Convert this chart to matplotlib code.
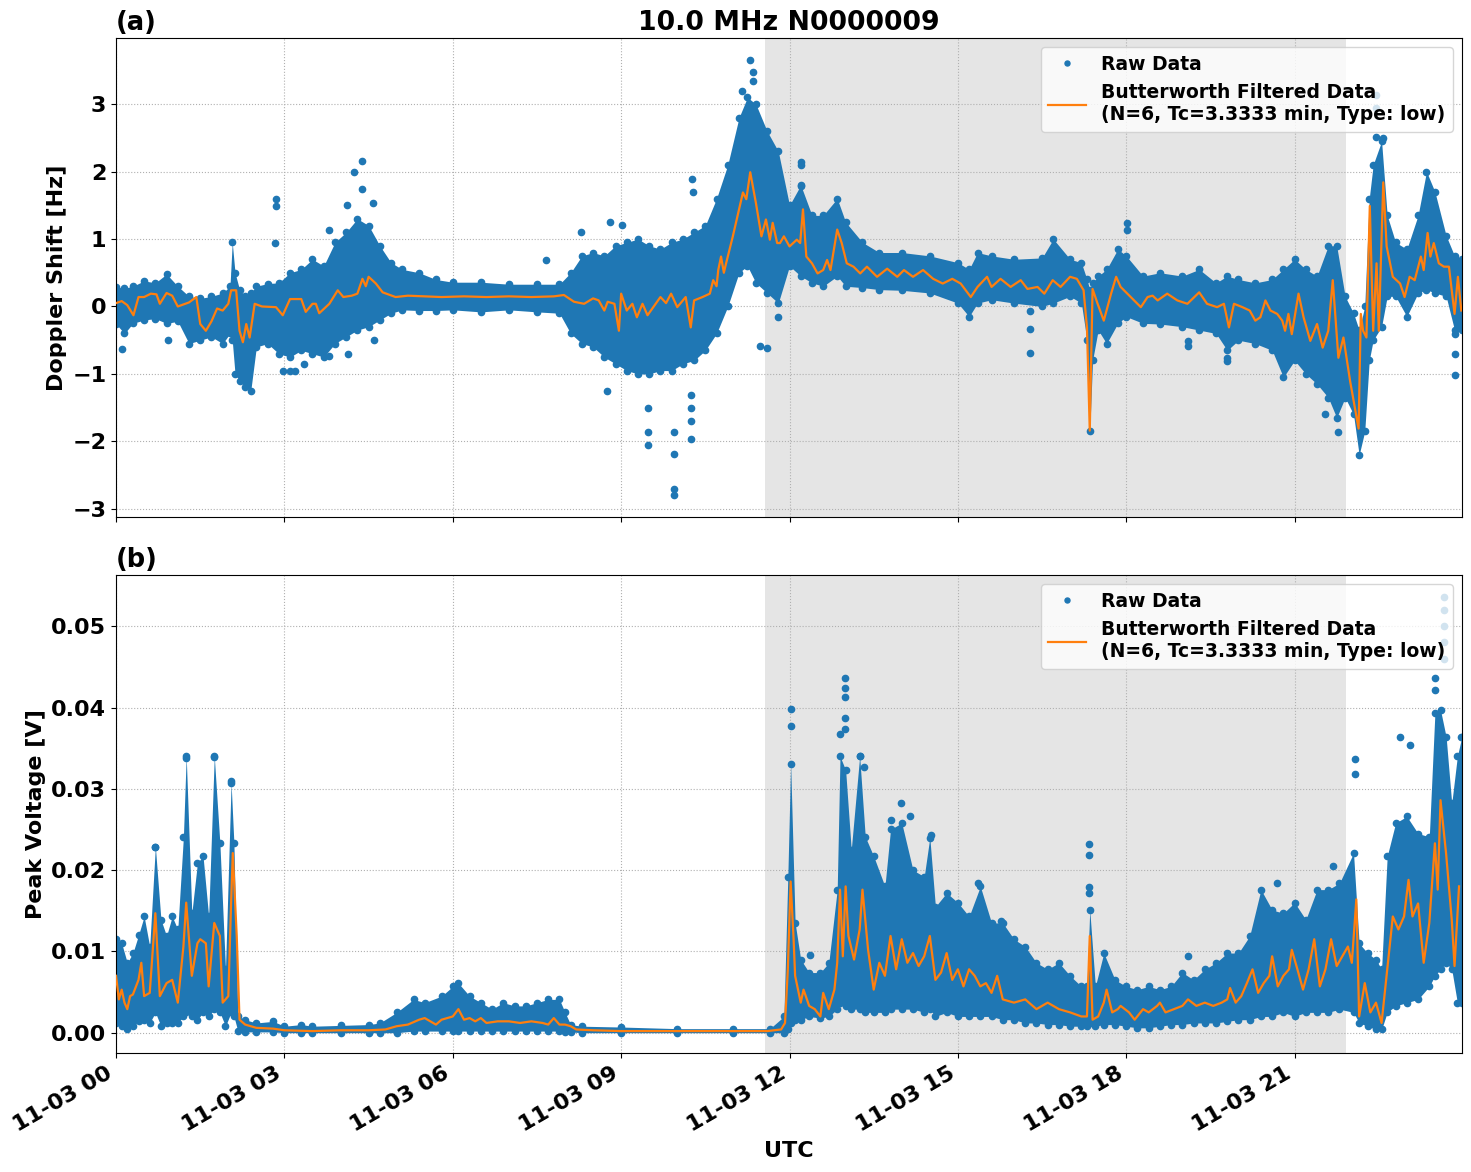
import numpy as np
import pandas as pd
import matplotlib
matplotlib.use('Agg')
import matplotlib.pyplot as plt
import matplotlib.dates as mdates

plt.rcParams['font.weight'] = 'bold'
plt.rcParams['axes.labelweight'] = 'bold'
plt.rcParams['axes.titleweight'] = 'bold'

DAY = pd.Timestamp('2023-11-03 00:00')

# ---- (a) Doppler shift: spread of raw data (hour, upper edge, lower edge) ----
dop_env_h = [0.0, 0.15, 0.3, 0.5, 0.7, 0.9, 1.1, 1.3, 1.5, 1.7, 1.9, 2.03, 2.07, 2.12, 2.2, 2.3, 2.4,
             2.5, 2.7, 2.9, 3.1, 3.3, 3.5, 3.7, 3.9, 4.1, 4.3, 4.5, 4.7, 4.9, 5.1, 5.4, 5.7,
             6.0, 6.5, 7.0, 7.5, 7.9, 8.1, 8.3, 8.5, 8.7, 8.9, 9.1, 9.3, 9.5, 9.7, 9.9, 10.1,
             10.3, 10.5, 10.7, 10.9, 11.1, 11.25, 11.4, 11.6, 11.8, 12.0, 12.2, 12.4, 12.6, 12.85,
             13.0, 13.3, 13.6, 14.0, 14.5, 15.0, 15.2, 15.35, 15.6, 16.0, 16.5, 16.7, 17.0, 17.2,
             17.3, 17.35, 17.4, 17.5, 17.65, 17.85, 18.0, 18.3, 18.6, 19.0, 19.3, 19.6, 19.8, 20.0,
             20.3, 20.6, 20.8, 21.0, 21.2, 21.4, 21.6, 21.75, 21.9, 22.05, 22.15, 22.25, 22.33,
             22.4, 22.55, 22.65, 22.8, 23.0, 23.2, 23.35, 23.5, 23.7, 23.85, 23.98]
dop_env_top = [0.29, 0.27, 0.3, 0.38, 0.35, 0.48, 0.3, 0.15, 0.12, 0.15, 0.2, 0.3, 0.95, 0.5, 0.25, 0.15, 0.2,
               0.3, 0.34, 0.35, 0.5, 0.55, 0.7, 0.6, 0.95, 1.1, 1.3, 1.2, 0.9, 0.65, 0.55, 0.5, 0.4,
               0.36, 0.36, 0.33, 0.33, 0.33, 0.5, 0.75, 0.8, 0.75, 0.9, 0.95, 1.0, 0.9, 0.85, 0.95, 1.0,
               1.1, 1.2, 1.6, 2.1, 2.8, 3.1, 3.0, 2.6, 2.3, 1.5, 1.8, 1.35, 1.35, 1.6,
               1.25, 0.95, 0.8, 0.8, 0.75, 0.65, 0.55, 0.8, 0.75, 0.7, 0.72, 1.0, 0.7, 0.65,
               0.4, 0.25, 0.35, 0.45, 0.55, 0.85, 0.75, 0.45, 0.5, 0.45, 0.55, 0.35, 0.45, 0.4,
               0.35, 0.4, 0.55, 0.7, 0.55, 0.45, 0.9, 0.9, 0.15, -0.1, -0.35, 0.0, 1.6,
               2.1, 2.45, 1.35, 0.95, 0.85, 1.35, 2.0, 1.7, 1.05, 0.75, 0.7]
dop_env_bot = [-0.26, -0.4, -0.25, -0.2, -0.18, -0.25, -0.22, -0.55, -0.5, -0.45, -0.55, -0.4, -0.5, -1.0, -1.1, -1.2, -1.25,
               -0.6, -0.55, -0.7, -0.75, -0.65, -0.7, -0.75, -0.55, -0.45, -0.35, -0.3, -0.2, -0.1, -0.05, -0.06, -0.06,
               -0.05, -0.08, -0.05, -0.08, -0.1, -0.4, -0.55, -0.6, -0.75, -0.85, -0.95, -1.0, -1.0, -0.95, -0.95, -0.85,
               -0.8, -0.65, -0.4, 0.0, 0.5, 0.6, 0.35, 0.2, 0.05, 0.6, 0.45, 0.35, 0.3, 0.45,
               0.3, 0.28, 0.25, 0.24, 0.2, 0.05, -0.15, 0.05, 0.1, 0.05, 0.0, 0.05, 0.15, 0.05,
               -0.5, -1.85, -0.8, -0.35, -0.55, -0.25, -0.15, -0.25, -0.26, -0.3, -0.35, -0.4, -0.65, -0.5,
               -0.55, -0.65, -1.05, -0.8, -1.0, -1.15, -1.35, -1.65, -1.35, -1.6, -2.2, -1.85, -0.8,
               -0.5, -0.3, 0.15, 0.15, -0.15, 0.2, 0.25, 0.2, 0.15, -0.35, -0.35]

# isolated raw points outside the main band
dop_out_h = [2.85, 2.85, 2.84, 4.24, 4.39, 4.39, 4.57, 4.12, 3.8, 0.93, 0.1, 2.97, 3.1, 3.18, 3.8, 4.13, 4.6, 3.35,
             11.29, 11.35, 11.35, 11.16, 10.27, 10.28, 8.28, 8.8, 9.02, 7.66, 9.47, 9.47, 9.47, 9.95, 9.95, 9.95,
             9.95, 10.24, 10.24, 10.24, 10.24, 8.74, 11.6, 11.48, 12.2, 12.2, 12.21, 16.28, 16.28, 16.28, 11.8,
             18.01, 18.01, 19.1, 19.1, 19.8, 19.8, 23.86, 23.86, 23.86, 21.78, 21.55, 22.45, 22.45, 22.45, 22.57]
dop_out_v = [1.6, 1.49, 0.94, 2.0, 2.15, 1.74, 1.54, 1.5, 1.14, -0.5, -0.63, -0.96, -0.96, -0.96, -0.73, -0.71, -0.5, -0.86,
             3.65, 3.47, 3.34, 3.2, 1.89, 1.69, 1.11, 1.25, 1.21, 0.69, -1.51, -1.86, -2.06, -1.86, -2.19, -2.7,
             -2.8, -1.31, -1.5, -1.7, -1.96, -1.26, -0.61, -0.59, 2.14, 2.09, 1.79, -0.06, -0.34, -0.69, -0.16,
             1.24, 1.14, -0.51, -0.58, -0.76, -0.81, -0.41, -0.7, -1.01, -1.86, -1.59, 3.14, 2.94, 2.51, 2.49]

# Butterworth filtered Doppler shift (hour, Hz)
dop_filt_h = [0.0, 0.1, 0.2, 0.31, 0.4, 0.5, 0.62, 0.72, 0.78, 0.9, 1.0, 1.1, 1.3, 1.43, 1.5, 1.6, 1.7, 1.8, 1.9,
              2.0, 2.05, 2.14, 2.2, 2.26, 2.32, 2.38, 2.47, 2.6, 2.85, 2.97, 3.1, 3.3, 3.38, 3.5, 3.56, 3.62,
              3.8, 3.95, 4.05, 4.2, 4.3, 4.39, 4.45, 4.5, 4.63, 4.75, 4.98, 5.2, 5.5, 5.8, 6.2, 6.6, 7.0,
              7.4, 7.8, 7.98, 8.16, 8.34, 8.5, 8.6, 8.7, 8.76, 8.88, 8.96, 9.0, 9.1, 9.2, 9.28, 9.38, 9.47,
              9.58, 9.7, 9.8, 9.89, 10.0, 10.15, 10.24, 10.3, 10.45, 10.58, 10.64, 10.7, 10.73, 10.78, 10.83,
              10.87, 10.99, 11.1, 11.17, 11.23, 11.3, 11.4, 11.5, 11.58, 11.65, 11.7, 11.78, 11.83, 11.9,
              12.0, 12.13, 12.19, 12.24, 12.3, 12.4, 12.5, 12.6, 12.67, 12.73, 12.85, 12.93, 13.02, 13.14,
              13.26, 13.38, 13.56, 13.74, 13.92, 14.04, 14.2, 14.38, 14.56, 14.73, 14.9, 15.05, 15.23,
              15.35, 15.52, 15.6, 15.76, 15.94, 16.12, 16.24, 16.42, 16.54, 16.69, 16.83, 17.0, 17.12,
              17.24, 17.3, 17.35, 17.4, 17.49, 17.6, 17.73, 17.82, 17.9, 18.08, 18.26, 18.38, 18.47, 18.56,
              18.73, 18.91, 19.09, 19.3, 19.44, 19.62, 19.74, 19.83, 19.92, 20.07, 20.2, 20.3, 20.39,
              20.48, 20.57, 20.69, 20.78, 20.83, 20.89, 20.95, 21.07, 21.16, 21.28, 21.4, 21.5, 21.6,
              21.68, 21.78, 21.87, 21.99, 22.14, 22.18, 22.22, 22.28, 22.34, 22.4, 22.46, 22.5, 22.58,
              22.64, 22.75, 22.88, 22.96, 23.05, 23.14, 23.25, 23.3, 23.37, 23.42, 23.48, 23.57, 23.66,
              23.75, 23.85, 23.91, 23.97]
dop_filt_v = [0.05, 0.08, 0.02, -0.13, 0.14, 0.14, 0.19, 0.18, 0.04, 0.2, 0.16, 0.0, 0.06, 0.14, -0.26, -0.36, -0.22, -0.03, -0.06,
              0.04, 0.24, 0.24, -0.36, -0.53, -0.26, -0.46, 0.04, 0.0, -0.01, -0.13, 0.11, 0.11, -0.08, 0.04, 0.04, -0.1,
              0.04, 0.24, 0.14, 0.16, 0.19, 0.41, 0.3, 0.44, 0.34, 0.21, 0.14, 0.16, 0.15, 0.14, 0.15, 0.14, 0.15,
              0.14, 0.15, 0.17, 0.07, 0.04, 0.12, 0.09, -0.06, 0.07, 0.04, -0.36, 0.19, -0.06, 0.04, -0.16, 0.04, -0.13,
              0.0, 0.14, 0.05, 0.19, -0.01, 0.14, -0.31, 0.09, 0.14, 0.19, 0.39, 0.3, 0.54, 0.74, 0.5,
              0.64, 1.04, 1.44, 1.69, 1.59, 1.99, 1.54, 1.04, 1.29, 0.99, 1.24, 0.94, 0.94, 1.04,
              0.89, 0.99, 0.94, 1.44, 0.74, 0.64, 0.49, 0.54, 0.69, 0.54, 1.14, 0.94, 0.64, 0.59,
              0.49, 0.59, 0.44, 0.56, 0.44, 0.54, 0.44, 0.54, 0.41, 0.34, 0.41, 0.34, 0.14,
              0.29, 0.44, 0.29, 0.41, 0.29, 0.39, 0.26, 0.29, 0.19, 0.39, 0.29, 0.44, 0.41,
              0.24, -0.31, -1.84, 0.26, 0.04, -0.21, 0.19, 0.44, 0.29, 0.14, -0.01, 0.14, 0.16, 0.09,
              0.19, 0.09, 0.04, 0.21, 0.04, -0.01, 0.04, -0.31, 0.04, -0.01, -0.06, -0.21, -0.16,
              0.09, -0.06, -0.11, -0.21, -0.36, -0.11, -0.41, 0.19, -0.16, -0.51, -0.26, -0.61, -0.36,
              0.39, -0.76, -0.46, -1.11, -1.81, -0.11, -0.36, -0.46, 1.49, -0.36, 0.64, -0.36, 1.84,
              0.89, 0.44, 0.34, 0.14, 0.44, 0.39, 0.74, 0.54, 1.09, 0.74, 0.94, 0.64, 0.59,
              0.59, -0.11, 0.44, -0.06]

# ---- (b) Peak voltage ----
pv_env_h = [0.0, 0.1, 0.2, 0.3, 0.4, 0.5, 0.6, 0.7, 0.8, 0.9, 1.0, 1.1, 1.2, 1.25, 1.35, 1.45, 1.55, 1.65,
            1.75, 1.85, 1.95, 2.05, 2.1, 2.17, 2.3, 2.5, 2.8, 3.0, 3.3, 3.5, 4.0, 4.5, 4.7, 5.0, 5.3,
            5.5, 5.8, 6.0, 6.1, 6.3, 6.5, 6.7, 6.9, 7.1, 7.3, 7.5, 7.7, 7.9, 8.0, 8.1, 8.3, 9.0, 10.0,
            11.0, 11.65, 11.9, 11.97, 12.02, 12.1, 12.2, 12.35, 12.55, 12.7, 12.85, 12.9, 13.0, 13.1,
            13.25, 13.35, 13.5, 13.7, 13.8, 14.0, 14.2, 14.4, 14.5, 14.6, 14.8, 15.0, 15.2, 15.4, 15.6,
            15.8, 16.0, 16.2, 16.4, 16.6, 16.8, 17.0, 17.2, 17.3, 17.35, 17.45, 17.6, 17.8, 18.0, 18.2,
            18.4, 18.6, 18.8, 19.0, 19.2, 19.4, 19.6, 19.8, 20.0, 20.2, 20.4, 20.6, 20.8, 21.0, 21.2,
            21.4, 21.6, 21.8, 22.05, 22.15, 22.3, 22.45, 22.55, 22.65, 22.8, 23.0, 23.2, 23.4, 23.5,
            23.6, 23.7, 23.8, 23.9, 23.98]
pv_env_top = [0.0115, 0.011, 0.0086, 0.0098, 0.012, 0.0143, 0.0106, 0.0229, 0.0139, 0.0119, 0.0143, 0.0127, 0.0241, 0.034,
              0.0147, 0.0209, 0.0217, 0.0143, 0.034, 0.0233, 0.0078, 0.0307, 0.0233, 0.002, 0.0016, 0.0012, 0.0014,
              0.0008, 0.001, 0.0008, 0.0009, 0.001, 0.0012, 0.0025, 0.0041, 0.0037, 0.0045, 0.0057, 0.0061, 0.0045,
              0.0037, 0.0029, 0.0037, 0.0033, 0.0033, 0.0037, 0.0041, 0.0041, 0.0025, 0.001, 0.0008, 0.0007, 0.0005,
              0.0005, 0.0005, 0.002, 0.0192, 0.0331, 0.0135, 0.009, 0.0074, 0.0074, 0.0086, 0.0176, 0.034, 0.0323,
              0.0225, 0.034, 0.0241, 0.0217, 0.018, 0.025, 0.0258, 0.02, 0.0192, 0.024, 0.0155, 0.0172, 0.016, 0.0143,
              0.018, 0.0135, 0.0135, 0.0115, 0.0106, 0.0086, 0.0078, 0.0086, 0.007, 0.0057, 0.0057, 0.0151, 0.0057,
              0.0098, 0.0065, 0.0057, 0.0053, 0.0057, 0.0053, 0.0057, 0.0074, 0.0065, 0.0078, 0.0086, 0.0098, 0.0098,
              0.0119, 0.0176, 0.0151, 0.0147, 0.016, 0.0139, 0.0176, 0.0176, 0.0184, 0.0221, 0.011, 0.0098, 0.009,
              0.0078, 0.0217, 0.0258, 0.0266, 0.0245, 0.0241, 0.0393, 0.0397, 0.0364, 0.0282, 0.034, 0.0364]
pv_env_bot = [0.0012, 0.0008, 0.0004, 0.0008, 0.0014, 0.0016, 0.0012, 0.0025, 0.0008, 0.0012, 0.0012, 0.0012, 0.002, 0.0025,
              0.002, 0.0016, 0.0025, 0.002, 0.0029, 0.0025, 0.0008, 0.0025, 0.002, 0.0002, 0.0001, 0.0001, 0.0001,
              0.0, 0.0, 0.0, 0.0, 0.0, 0.0, 0.0, 0.0002, 0.0002, 0.0002, 0.0002, 0.0002, 0.0002,
              0.0002, 0.0002, 0.0002, 0.0002, 0.0002, 0.0002, 0.0002, 0.0002, 0.0001, 0.0001, 0.0, 0.0, 0.0,
              0.0, 0.0, 0.0, 0.0004, 0.0012, 0.0016, 0.0016, 0.002, 0.0018, 0.002, 0.0029, 0.0037, 0.0033,
              0.0029, 0.0029, 0.0025, 0.0025, 0.0025, 0.0029, 0.0029, 0.0029, 0.0025, 0.0029, 0.002, 0.0025, 0.002, 0.002,
              0.002, 0.002, 0.0016, 0.0016, 0.0012, 0.0012, 0.001, 0.001, 0.0008, 0.0008, 0.0008, 0.0012, 0.0008,
              0.001, 0.001, 0.0008, 0.0006, 0.0006, 0.0008, 0.001, 0.001, 0.0012, 0.0012, 0.0012, 0.0014, 0.0016,
              0.0016, 0.002, 0.002, 0.0025, 0.002, 0.0025, 0.0025, 0.0025, 0.0029, 0.0025, 0.0012, 0.0008, 0.0004,
              0.0004, 0.0025, 0.0033, 0.0037, 0.0041, 0.0057, 0.007, 0.0078, 0.0086, 0.0078, 0.0037, 0.0037]

pv_out_h = [12.02, 12.02, 12.98, 12.98, 12.98, 12.98, 12.98, 12.9, 13.26, 13.32, 13.99, 13.8, 14.15, 14.53, 15.36,
            17.34, 17.34, 17.34, 17.34, 15.76, 12.37, 23.67, 23.67, 23.67, 23.67, 23.67, 23.5, 23.5, 22.08, 22.08,
            22.88, 23.05, 23.96, 19.1, 20.69, 21.69, 1.25, 1.75, 2.05, 0.7]
pv_out_v = [0.0398, 0.0377, 0.0436, 0.0424, 0.0413, 0.0387, 0.0374, 0.0368, 0.034, 0.0327, 0.0282, 0.0262, 0.0267, 0.0243, 0.0184,
            0.0232, 0.0218, 0.0179, 0.0172, 0.0137, 0.0096, 0.0536, 0.052, 0.05, 0.048, 0.046, 0.0436, 0.0421, 0.0337, 0.0318,
            0.0364, 0.0354, 0.0364, 0.0094, 0.0184, 0.0205, 0.0338, 0.0339, 0.0309, 0.0229]

pv_filt_h = [0.0, 0.05, 0.1, 0.15, 0.2, 0.25, 0.3, 0.4, 0.45, 0.5, 0.6, 0.7, 0.78, 0.9, 1.0, 1.1, 1.2, 1.25, 1.35,
             1.45, 1.5, 1.6, 1.65, 1.75, 1.85, 1.9, 2.0, 2.05, 2.08, 2.15, 2.2, 2.3, 2.5, 2.8, 3.0, 3.5, 4.0,
             4.5, 4.8, 5.0, 5.2, 5.4, 5.5, 5.7, 5.8, 6.0, 6.1, 6.2, 6.3, 6.4, 6.5, 6.6, 6.8, 7.0, 7.2, 7.4,
             7.6, 7.7, 7.8, 7.9, 8.0, 8.1, 8.2, 8.5, 9.0, 10.0, 11.0, 11.6, 11.85, 11.92, 11.97, 12.02, 12.07,
             12.1, 12.2, 12.25, 12.35, 12.45, 12.55, 12.6, 12.7, 12.8, 12.85, 12.9, 12.95, 13.0, 13.05, 13.15,
             13.25, 13.3, 13.4, 13.5, 13.6, 13.7, 13.8, 13.9, 14.0, 14.1, 14.2, 14.3, 14.4, 14.5, 14.6, 14.7,
             14.8, 14.9, 15.0, 15.1, 15.2, 15.3, 15.4, 15.5, 15.6, 15.7, 15.8, 16.0, 16.2, 16.4, 16.6, 16.8,
             17.0, 17.2, 17.3, 17.35, 17.4, 17.5, 17.6, 17.65, 17.75, 17.85, 17.9, 18.05, 18.15, 18.3, 18.4,
             18.55, 18.6, 18.7, 18.85, 19.0, 19.1, 19.25, 19.4, 19.55, 19.7, 19.8, 19.85, 19.95, 20.05, 20.15,
             20.25, 20.35, 20.45, 20.55, 20.6, 20.7, 20.8, 20.9, 20.95, 21.05, 21.15, 21.25, 21.35, 21.45,
             21.55, 21.65, 21.75, 21.85, 21.95, 22.02, 22.1, 22.15, 22.25, 22.35, 22.45, 22.55, 22.6, 22.68,
             22.75, 22.85, 22.95, 23.03, 23.1, 23.2, 23.3, 23.4, 23.5, 23.55, 23.6, 23.7, 23.8, 23.85, 23.93]
pv_filt_v = [0.007, 0.0041, 0.0053, 0.0037, 0.0029, 0.0045, 0.0047, 0.0065, 0.0086, 0.0045, 0.0049, 0.0147, 0.0045, 0.0061,
             0.0065, 0.0037, 0.0106, 0.016, 0.007, 0.011, 0.0115, 0.011, 0.0057, 0.0135, 0.0119, 0.0037, 0.0045, 0.016,
             0.0221, 0.0119, 0.0016, 0.001, 0.0006, 0.0005, 0.0003, 0.0002, 0.0003, 0.0003, 0.0004, 0.0008, 0.001,
             0.0016, 0.0018, 0.001, 0.0016, 0.002, 0.0029, 0.0016, 0.0018, 0.0014, 0.0018, 0.0012, 0.0014, 0.0014,
             0.0012, 0.0014, 0.0012, 0.001, 0.0018, 0.001, 0.001, 0.0008, 0.0004, 0.0003, 0.0002, 0.0002, 0.0002,
             0.0002, 0.0004, 0.0012, 0.0078, 0.0186, 0.0119, 0.007, 0.0037, 0.0053, 0.0033, 0.0029, 0.002, 0.0049,
             0.0029, 0.0053, 0.0086, 0.0176, 0.0094, 0.018, 0.0119, 0.009, 0.0127, 0.0176, 0.0102, 0.0053, 0.0086,
             0.007, 0.0119, 0.0078, 0.0115, 0.0086, 0.0098, 0.0082, 0.0094, 0.0119, 0.0065, 0.0074, 0.0098, 0.0065,
             0.0078, 0.0057, 0.0078, 0.007, 0.0057, 0.0061, 0.0049, 0.007, 0.0041, 0.0037, 0.0041, 0.0029, 0.0037,
             0.0029, 0.0025, 0.002, 0.002, 0.0119, 0.0016, 0.002, 0.0037, 0.0053, 0.0025, 0.0029, 0.0033, 0.0025,
             0.0016, 0.0029, 0.0025, 0.0033, 0.0037, 0.0025, 0.0029, 0.0033, 0.0041, 0.0033, 0.0037, 0.0033, 0.0037,
             0.0041, 0.0055, 0.0037, 0.0045, 0.0061, 0.0078, 0.0049, 0.0061, 0.007, 0.0094, 0.0057, 0.007, 0.0078,
             0.0102, 0.0078, 0.0053, 0.0078, 0.0115, 0.0057, 0.0078, 0.0115, 0.0082, 0.0094, 0.0106, 0.0086, 0.0164,
             0.002, 0.0061, 0.0025, 0.0037, 0.0012, 0.0045, 0.0098, 0.0143, 0.0127, 0.0143, 0.0188, 0.0143, 0.0159,
             0.0086, 0.0135, 0.0233, 0.0176, 0.0286, 0.022, 0.0139, 0.0082, 0.018]

SHADE_START_H = 11.57
SHADE_END_H = 21.92
FILT_LABEL = 'Butterworth Filtered Data\n(N=6, Tc=3.3333 min, Type: low)'


def to_time(hours):
    return DAY + pd.to_timedelta(np.asarray(hours, dtype=float), unit='h')


def draw_panel(ax, env_h, env_top, env_bot, out_h, out_v, filt_h, filt_v):
    t_env = to_time(env_h)
    ax.axvspan(to_time([SHADE_START_H])[0], to_time([SHADE_END_H])[0], color='gray', alpha=0.2, lw=0, zorder=0)
    ax.fill_between(t_env, env_bot, env_top, color='C0', lw=0, zorder=2)
    raw_t = np.concatenate([t_env, t_env, to_time(out_h)])
    raw_v = np.concatenate([env_top, env_bot, out_v])
    ax.plot(raw_t, raw_v, 'o', ms=4.5, color='C0', label='Raw Data', zorder=2)
    ax.plot(to_time(filt_h), filt_v, color='C1', lw=1.6, label=FILT_LABEL, zorder=3)
    ax.grid(True, linestyle=':', color='#b0b0b0')
    ax.legend(loc='upper right', prop={'size': 13.5, 'weight': 'bold'}, markerscale=0.8)
    ax.tick_params(labelsize=16)


fig = plt.figure(figsize=(14.71, 11.72), dpi=100)
ax1 = fig.add_axes([0.0789, 0.5589, 0.915, 0.4087])
ax2 = fig.add_axes([0.0789, 0.1015, 0.915, 0.4079], sharex=ax1)

draw_panel(ax1, dop_env_h, dop_env_top, dop_env_bot, dop_out_h, dop_out_v, dop_filt_h, dop_filt_v)
draw_panel(ax2, pv_env_h, pv_env_top, pv_env_bot, pv_out_h, pv_out_v, pv_filt_h, pv_filt_v)

ax1.set_ylim(-3.12, 3.98)
ax2.set_ylim(-0.0025, 0.0563)
ax1.set_xlim(DAY, DAY + pd.Timedelta(hours=23, minutes=59))

ax1.set_title('10.0 MHz N0000009', fontsize=19.3)
ax1.set_title('(a)', loc='left', fontsize=18.5)
ax2.set_title('(b)', loc='left', fontsize=18.5)
ax1.set_ylabel('Doppler Shift [Hz]', fontsize=16)
ax2.set_ylabel('Peak Voltage [V]', fontsize=16)
ax2.set_xlabel('UTC', fontsize=16)

ax2.xaxis.set_major_locator(mdates.HourLocator(byhour=range(0, 24, 3)))
ax2.xaxis.set_major_formatter(mdates.DateFormatter('%m-%d %H'))
plt.setp(ax1.get_xticklabels(), visible=False)
plt.setp(ax2.get_xticklabels(), rotation=30, ha='right')

fig.savefig('out.png', dpi=100)
